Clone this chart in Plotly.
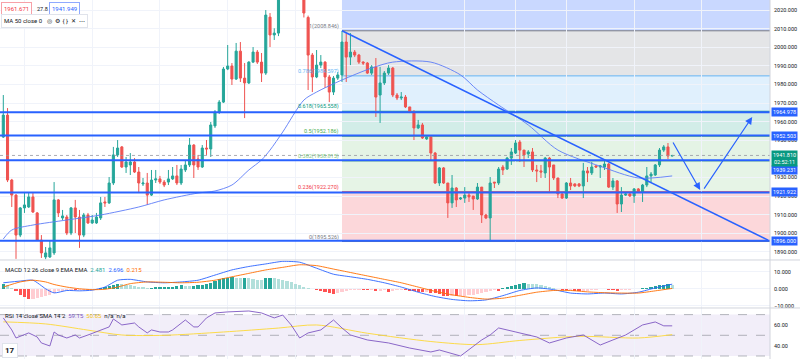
import plotly.graph_objects as go

# ---------------- data ----------------
opens = [1951.7,1963.5,1928.6,1920.5,1899.0,1913.6,1914.1,1919.5,1910.9,1896.3,1887.2,1887.2,1889.4,1917.9,1908.2,1908.7,1900.1,1913.6,1908.7,1899.0,
         1909.8,1905.5,1905.5,1908.2,1916.8,1916.3,1927.0,1942.1,1946.4,1935.6,1936.7,1938.3,1932.9,
         1926.5,1927.0,1920.5,1928.6,1929.2,1927.5,1927.5,1929.2,1930.8,1927.0,1934.0,1936.7,1947.4,1939.9,1935.6,1945.8,1945.3,1957.7,1965.2,1970.5,
         1988.3,1989.9,1982.9,1997.9,1983.4,1980.8,1992.0,1997.4,1992.0,1986.1,
         2016.2,2006.6,2007.6,2030.0,2037.0,2043.0,2038.0,2034.0,2030.0,2016.0,1995.8,1984.0,1990.4,1992.0,1984.0,1975.9,1983.4,1985.1,
         2002.8,1994.7,1997.4,1995.8,1992.0,1991.5,1986.1,1989.4,1974.3,1980.8,1986.1,1988.8,1974.3,1972.7,1973.2,1967.9,1965.2,1956.6,
         1958.2,1950.7,1951.7,1943.1,1927.0,1935.1,1927.0,1916.3,1924.3,1918.4,1918.9,1920.5,1920.0,1918.4,1924.8,1909.8,1908.2,1927.5,
         1927.0,1935.6,1934.5,1940.4,1943.1,1949.0,1944.7,1942.6,1943.7,1934.0,1933.5,1932.4,1940.4,1936.7,1929.7,1921.1,1918.9,1927.0,
         1926.5,1926.5,1925.4,1933.5,1932.4,1936.2,1935.6,1935.6,1937.2,1924.8,1928.1,1915.7,1920.5,1921.1,1920.0,1923.8,1922.2,1925.9,
         1930.8,1931.3,1936.7,1944.7,1946.4,1941.5]
highs = [1974.3,1967.3,1929.2,1921.0,1914.1,1921.6,1921.6,1921.6,1911.4,1899.0,1892.6,1896.3,1927.5,1918.4,1912.5,1909.8,1914.1,1917.9,1912.5,1910.9,
         1910.9,1909.8,1910.9,1919.5,1919.5,1930.2,1946.4,1950.1,1946.9,1941.0,1943.1,1940.4,1935.6,
         1929.7,1932.4,1934.0,1934.0,1930.8,1928.6,1934.0,1935.6,1936.7,1936.7,1939.4,1951.2,1947.9,1942.1,1947.4,1950.1,1959.8,1966.2,1971.6,1989.4,
         2001.2,1991.5,2002.3,2002.8,1991.5,1992.5,2000.1,1998.5,1996.9,2020.0,
         2018.4,2010.2,2032.0,2041.0,2047.0,2046.0,2040.0,2036.0,2031.0,2017.0,1996.9,1998.5,1995.8,1992.5,1985.1,1984.5,1986.7,2008.8,
         2007.6,2007.6,1998.5,1996.4,1992.5,1992.0,1990.4,1994.2,1989.4,1987.2,1990.4,1989.4,1975.4,1975.9,1974.3,1967.9,1966.2,1960.9,
         1959.3,1952.8,1952.2,1943.7,1935.6,1935.6,1927.0,1931.3,1924.8,1919.5,1924.8,1921.6,1920.0,1927.0,1924.8,1910.4,1930.2,1927.5,
         1935.6,1936.7,1941.0,1945.8,1950.1,1950.1,1944.7,1944.7,1945.8,1936.7,1936.7,1941.0,1941.0,1936.7,1929.7,1921.6,1927.5,1929.7,
         1926.8,1927.0,1937.8,1935.6,1938.3,1936.7,1936.7,1939.4,1937.8,1929.7,1928.6,1924.8,1921.6,1921.6,1924.3,1924.3,1926.5,1935.6,
         1932.9,1937.2,1945.8,1947.4,1948.5,1942.1]
lows = [1951.2,1927.5,1914.1,1886.2,1897.9,1910.9,1913.6,1910.9,1895.8,1886.7,1886.0,1886.7,1888.3,1908.7,1907.1,1899.0,1899.0,1900.1,1892.1,1897.9,
        1905.0,1905.0,1905.0,1907.1,1914.1,1915.7,1925.9,1941.0,1935.1,1932.4,1931.3,1932.4,1921.6,
        1925.4,1915.2,1920.0,1927.0,1926.5,1924.8,1925.9,1928.6,1925.9,1925.9,1932.9,1935.6,1929.7,1934.0,1935.1,1942.1,1941.0,1956.6,1964.1,1970.0,
        1987.7,1979.7,1982.4,1981.3,1961.9,1980.2,1991.5,1991.0,1981.3,1985.1,
        2000.1,2003.9,2006.0,2027.0,2034.0,2033.0,2029.0,2026.5,2016.0,1977.0,1975.9,1983.4,1988.8,1978.1,1970.5,1974.3,1982.4,1981.3,
        1981.3,1990.4,1994.7,1991.0,1990.4,1985.6,1985.1,1962.5,1959.3,1979.7,1985.1,1973.2,1971.6,1971.6,1967.3,1964.6,1950.1,1956.0,
        1950.7,1950.1,1939.4,1926.5,1925.4,1926.5,1908.2,1913.6,1914.1,1917.9,1916.3,1916.8,1912.5,1917.9,1905.5,1907.6,1895.3,1924.3,
        1925.9,1931.3,1934.0,1936.7,1942.6,1938.3,1935.6,1940.4,1932.9,1927.5,1929.7,1929.7,1922.2,1928.6,1918.9,1918.4,1918.4,1923.2,
        1924.8,1924.8,1918.9,1927.5,1931.3,1935.1,1929.7,1934.0,1924.3,1923.2,1910.9,1911.4,1920.0,1919.5,1916.3,1921.6,1916.8,1924.8,
        1927.5,1930.8,1935.6,1943.7,1939.9,1941.3]
closes = [1963.5,1928.6,1920.5,1899.0,1913.6,1915.2,1919.5,1911.4,1896.3,1889.4,1889.4,1892.1,1917.9,1910.9,1909.3,1900.1,1913.6,1908.7,1899.0,1909.8,
          1905.5,1907.1,1908.7,1916.3,1916.3,1927.0,1942.1,1945.8,1935.6,1938.3,1938.3,1932.9,1927.0,
          1927.0,1920.5,1928.6,1929.2,1927.5,1925.9,1929.2,1930.8,1927.0,1934.5,1936.7,1947.4,1936.7,1935.6,1945.8,1945.3,1958.2,1965.2,1970.5,1988.3,
          1989.9,1982.9,1997.9,1983.4,1980.8,1992.0,1997.4,1992.0,1986.1,2017.3,
          2006.6,2007.6,2030.0,2037.0,2043.0,2038.0,2034.0,2030.0,2018.4,1995.8,1984.0,1990.4,1992.0,1984.0,1975.9,1983.4,1985.1,2002.8,
          1994.7,1997.4,1995.8,1992.0,1991.5,1986.1,1989.4,1973.2,1980.8,1986.1,1988.8,1974.3,1972.7,1973.2,1967.9,1965.2,1956.6,1958.2,
          1951.2,1951.7,1943.1,1927.0,1935.1,1927.0,1916.3,1924.3,1917.9,1918.9,1920.5,1919.5,1918.4,1924.8,1909.8,1908.2,1927.0,1927.0,
          1934.5,1934.0,1940.4,1943.7,1948.5,1944.7,1942.1,1943.7,1934.0,1933.5,1932.9,1940.4,1935.6,1929.7,1921.1,1918.9,1927.0,1925.4,
          1925.4,1925.4,1933.5,1932.4,1935.6,1935.6,1936.2,1937.2,1924.8,1928.1,1915.7,1920.5,1921.1,1920.0,1923.8,1922.2,1925.9,1930.8,
          1931.8,1936.7,1944.7,1946.4,1941.5,1941.8]

ma_idx = [0, 2, 7, 15, 23, 32, 38, 46, 50, 54, 58, 61, 63, 66, 71, 74, 80, 87, 92, 101, 108, 112, 117, 124, 131, 141, 150, 158]
ma_val = [1896.9, 1901.7, 1904.4, 1907.1, 1909.8, 1914.1, 1917.9, 1921.6, 1922.7, 1925.9, 1934.0, 1939.4, 1944.7, 1954.4,
          1971.6, 1975.9, 1982.4, 1988.8, 1992.0, 1992.0, 1985.1, 1977.0, 1968.9, 1958.2, 1944.7, 1936.0, 1929.7, 1930.8]

macd_hist = [2.5, 2.0, 0.5,
             -1.5, -3.5, -5, -6, -6, -5.5, -5, -4.5, -3.5, -2.5,
             -1.5, -1.2, -1.0, -0.8, -1.0, -0.8, -0.6, -0.5, -0.4, -0.3,
             0.3, 0.8, 1.5, 2.2, 2.8, 2.6, 2.4, 2.2, 1.8, 1.2,
             0.8, 0.5, 0.6, 0.8, 0.9, 1.0, 1.1, 1.3, 1.8, 2.0,
             1.5, 1.4, 1.9, 2.4, 2.4, 2.7, 3.5, 4.5, 5.5, 6.0,
             6.5, 6.8, 6.5, 6.0, 6.3, 6.0, 5.5, 5.2, 5.0, 6.0,
             6.5, 6.0, 5.5, 5.0, 4.5, 4.0, 3.0, 2.0, 1.0, 0.5,
             0.0, -0.8, -1.5, -2.0, -2.5, -2.8, -2.6, -1.8, -1.2, -0.9,
             -0.8, -0.8, -0.9, -1.0, -1.0, -1.2, -1.2, -1.0, -1.8, -1.5,
             -1.0, -0.8, -1.0, -1.2, -1.5, -1.6, -2.0, -2.0, -2.2, -2.5,
             -3.0, -4.0, -4.5, -4.0, -4.5, -4.5, -4.0, -3.8, -3.5, -3.0,
             -2.5, -2.0, -1.5, -1.0, -1.2, 0.2, 0.8, 1.5, 2.2, 2.8,
             3.2, 3.0, 2.8, 2.5, 2.0, 1.5, 1.0, 0.5, 0.0, -0.5,
             -0.8, -0.8, -1.2, -1.5, -1.5, -1.2, -1.0, -0.6, -0.3, -0.2,
             -0.5, -1.0, -1.2, -1.0, -0.8, -0.5, -0.3, 0.0, 0.3, 0.6,
             1.0, 1.5, 2.0, 2.4, 2.6, 2.481]
macd_idx = [0, 4, 7, 10, 12, 15, 18, 21, 24, 27, 30, 34, 38, 42, 46, 50, 54, 58, 62, 66, 70, 74, 78, 82, 86, 90,
            94, 98, 102, 106, 110, 114, 118, 122, 126, 130, 134, 138, 142, 146, 150, 154, 158]
macd_line = [3.5, 4.5, 5.0, 0.0, -2.4, -1.0, -1.2, -0.8, 1.0, 5.0, 5.5, 4.0, 3.5, 4.0, 5.0, 8.0, 11.0, 13.0, 14.5, 16.0,
             15.5, 12.0, 8.5, 7.0, 5.5, 3.5, 1.0, -2.0, -4.5, -6.2, -7.0, -6.5, -4.0, -1.0, 0.5, -0.5, -2.5, -3.0,
             -2.5, -3.0, -2.0, 0.5, 2.696]
macd_signal = [1.0, 4.0, 5.0, 4.0, 2.5, 1.0, 0.0, -0.5, -0.3, 1.0, 3.0, 4.0, 3.8, 3.5, 3.8, 5.0, 7.0, 9.0, 11.0, 12.5,
               14.0, 13.5, 11.5, 9.5, 7.5, 5.5, 3.5, 1.0, -1.5, -3.5, -5.0, -6.0, -5.5, -3.8, -2.0, -1.0, -1.0, -1.8,
               -2.3, -2.5, -2.5, -1.2, 0.215]

rsi_idx = [0, 2, 3, 5, 6, 8, 9, 11, 12, 13, 15, 17, 18, 20, 22, 25, 26, 28, 31, 32, 34, 35, 37, 39, 40, 42, 43, 45, 46, 48, 50,
           53, 58, 61, 64, 66, 68, 70, 72, 75, 78, 80, 82, 86, 91, 96, 101, 103, 108, 113, 115, 117, 122, 126, 129, 133,
           137, 141, 144, 147, 151, 154, 156, 158]
rsi_val = [66.8, 55.2, 47.4, 50.3, 52.3, 48.4, 42.6, 39.7, 53.2, 50.3, 47.4, 50.3, 47.4, 50.3, 53.2, 58.1, 65.8, 60.0, 61.9,
           58.1, 52.3, 55.2, 53.2, 53.2, 55.2, 61.9, 64.8, 58.1, 58.1, 66.8, 71.6, 72.6, 73.5, 71.6, 66.8, 69.6, 60.0,
           47.4, 52.3, 55.2, 64.8, 57.1, 50.3, 45.5, 42.6, 37.7, 33.9, 35.8, 30.0, 45.5, 50.3, 57.1, 52.3, 48.4, 42.6,
           47.4, 50.3, 40.6, 45.5, 50.3, 60.0, 62.9, 59.15, 59.15]
rsi_sma_idx = [0, 10, 20, 28, 38, 52, 65, 74, 86, 101, 112, 122, 136, 150, 158]
rsi_sma_val = [63.0, 61.0, 55.0, 50.3, 50.0, 53.2, 57.0, 60.0, 52.0, 44.0, 41.0, 45.0, 49.0, 47.4, 50.65]

price_ticks = [1890, 1900, 1910, 1920, 1930, 1950, 1960, 1970, 1980, 1990, 2000, 2010, 2020]
fib_ratios = ["0", "0.236", "0.382", "0.5", "0.618", "0.786", "1"]
fib_prices = [1895.526, 1922.270, 1938.815, 1952.186, 1965.558, 1984.597, 2008.846]
fib_top = 2078.882
fib_start_idx = 80
hlines = [1964.978, 1952.503, 1939.231, 1921.922, 1896.000]
hline_label_pos = [1964.978, 1952.503, 1934.0, 1921.922, 1896.000]
last_price = 1941.810
trend_pts = ([80, 180.65], [2008.846, 1896.3])
arrow1 = (158.0, 1949.6, 164.6, 1923.2)
arrow2 = (165.3, 1923.2, 176.9, 1962.5)
grid_idx = [5, 21, 37, 53, 69, 109, 121, 133, 149, 165]

# ---------------- styling ----------------
UP = '#26a69a'
DN = '#ef5350'
BLUE = '#2962ff'
FONT = 'Roboto'
X0, X1 = -0.78, 181.1
Y0, Y1 = 1885.6, 2025.4
W, H, PW = 800, 359, 770
n = len(closes)
idx = list(range(n))

fig = go.Figure()

fig.add_trace(go.Candlestick(
    x=idx, open=opens, high=highs, low=lows, close=closes,
    increasing=dict(line=dict(color=UP, width=1), fillcolor=UP),
    decreasing=dict(line=dict(color=DN, width=1), fillcolor=DN),
    whiskerwidth=0, xaxis='x', yaxis='y', showlegend=False, hoverinfo='skip'))

fig.add_trace(go.Scatter(x=ma_idx, y=ma_val, mode='lines', line=dict(color='#5c7cf7', width=0.9, shape='spline', smoothing=0.8),
                         xaxis='x', yaxis='y', showlegend=False, hoverinfo='skip'))

# MACD
hcol = []
for i, h in enumerate(macd_hist):
    prev = macd_hist[i - 1] if i > 0 else h
    if h >= 0:
        hcol.append('#26a69a' if h >= prev else '#b2dfdb')
    else:
        hcol.append('#ffcdd2' if h >= prev else '#ff5252')
fig.add_trace(go.Bar(x=idx, y=macd_hist, marker=dict(color=hcol, line=dict(width=0)), width=0.75,
                     xaxis='x2', yaxis='y2', showlegend=False, hoverinfo='skip'))
fig.add_trace(go.Scatter(x=macd_idx, y=macd_line, mode='lines', line=dict(color=BLUE, width=0.9, shape='spline', smoothing=0.6),
                         xaxis='x2', yaxis='y2', showlegend=False, hoverinfo='skip'))
fig.add_trace(go.Scatter(x=macd_idx, y=macd_signal, mode='lines', line=dict(color='#ff6d00', width=0.9, shape='spline', smoothing=0.6),
                         xaxis='x2', yaxis='y2', showlegend=False, hoverinfo='skip'))

# RSI
fig.add_trace(go.Scatter(x=rsi_sma_idx, y=rsi_sma_val, mode='lines', line=dict(color='#fdd835', width=0.9, shape='spline', smoothing=0.8),
                         xaxis='x3', yaxis='y3', showlegend=False, hoverinfo='skip'))
fig.add_trace(go.Scatter(x=rsi_idx, y=rsi_val, mode='lines', line=dict(color='#7e57c2', width=0.9),
                         xaxis='x3', yaxis='y3', showlegend=False, hoverinfo='skip'))

shapes = []
band_cols = ['rgba(242,54,69,0.2)', 'rgba(129,199,132,0.2)', 'rgba(76,175,80,0.15)',
             'rgba(8,153,129,0.18)', 'rgba(100,181,246,0.2)', 'rgba(120,123,134,0.2)', 'rgba(41,98,255,0.25)']
line_cols = ['#787b86', '#f23645', '#81c784', '#4caf50', '#089981', '#64b5f6', '#787b86']
edges = fib_prices + [fib_top]
for i in range(7):
    shapes.append(dict(type='rect', xref='x', yref='y', x0=fib_start_idx, x1=X1, y0=edges[i], y1=edges[i + 1],
                       fillcolor=band_cols[i], line=dict(width=0), layer='below'))
for i in range(7):
    shapes.append(dict(type='line', xref='x', yref='y', x0=fib_start_idx, x1=X1, y0=fib_prices[i], y1=fib_prices[i],
                       line=dict(color=line_cols[i], width=1), layer='below'))
shapes.append(dict(type='line', xref='paper', yref='y', x0=0, x1=1, y0=last_price, y1=last_price,
                   line=dict(color='#9598a1', width=0.8, dash='dot')))
for h in hlines:
    shapes.append(dict(type='line', xref='paper', yref='y', x0=0, x1=1, y0=h, y1=h, line=dict(color=BLUE, width=2)))
shapes.append(dict(type='line', xref='x', yref='y', x0=trend_pts[0][0], x1=trend_pts[0][1],
                   y0=trend_pts[1][0], y1=trend_pts[1][1], line=dict(color=BLUE, width=1.5)))
shapes.append(dict(type='rect', xref='paper', yref='y3', x0=0, x1=1, y0=30, y1=70,
                   fillcolor='rgba(126,87,194,0.1)', line=dict(width=0), layer='below'))
for lv in (70, 50, 30):
    shapes.append(dict(type='line', xref='paper', yref='y3', x0=0, x1=1, y0=lv, y1=lv,
                       line=dict(color='#9598a1', width=0.7, dash='dash'), layer='below'))
for py in (0.2758, 0.1421):
    shapes.append(dict(type='line', xref='paper', yref='paper', x0=0, x1=W / PW, y0=py, y1=py,
                       line=dict(color='#d1d4dc', width=1)))
shapes.append(dict(type='line', xref='paper', yref='paper', x0=1, x1=1, y0=0, y1=1, line=dict(color='#d1d4dc', width=1)))

ann = []
def fmt(v):
    return f"{v:.3f}"
for r, p, c in zip(fib_ratios, fib_prices, line_cols):
    ann.append(dict(xref='x', yref='y', x=fib_start_idx, y=p, text=f"{r}({fmt(p)})", showarrow=False,
                    xanchor='right', yanchor='bottom', xshift=-1, yshift=-1, font=dict(size=5.5, color=c, family=FONT)))
lab_style = dict(xref='paper', yref='y', x=1, xanchor='left', showarrow=False, xshift=1,
                 font=dict(size=5.5, color='white', family=FONT), borderpad=1)
for h, ypos in zip(hlines, hline_label_pos):
    ann.append(dict(y=ypos, text=fmt(h), bgcolor=BLUE, **lab_style))
ann.append(dict(y=1940.2, text=f"{fmt(last_price)}<br>02:52:11", bgcolor='#089981', **lab_style))
for a in (arrow1, arrow2):
    ann.append(dict(xref='x', yref='y', axref='x', ayref='y', ax=a[0], ay=a[1], x=a[2], y=a[3], text='',
                    showarrow=True, arrowhead=2, arrowsize=1.2, arrowwidth=1.2, arrowcolor=BLUE))
def pp(px, py):
    return px / PW, 1 - py / H
x_, y_ = pp(1, 2)
ann.append(dict(xref='paper', yref='paper', x=x_, y=y_, xanchor='left', yanchor='top', showarrow=False,
                text='1961.671', font=dict(size=6, color='#f23645', family=FONT), bordercolor='#f7a1a8',
                borderwidth=1, borderpad=2, bgcolor='white'))
x_, y_ = pp(35, 4)
ann.append(dict(xref='paper', yref='paper', x=x_, y=y_, xanchor='left', yanchor='top', showarrow=False,
                text='27.8', font=dict(size=5.5, color='#131722', family=FONT)))
x_, y_ = pp(49, 2)
ann.append(dict(xref='paper', yref='paper', x=x_, y=y_, xanchor='left', yanchor='top', showarrow=False,
                text='1941.949', font=dict(size=6, color=BLUE, family=FONT), bordercolor='#8fa9ff',
                borderwidth=1, borderpad=2, bgcolor='white'))
x_, y_ = pp(1, 14)
ann.append(dict(xref='paper', yref='paper', x=x_, y=y_, xanchor='left', yanchor='top', showarrow=False,
                text='MA 50 close 0 &nbsp; ◎ &nbsp;⚙ &nbsp;{ } &nbsp;✕ &nbsp;⋯', font=dict(size=6, color='#131722', family=FONT),
                bordercolor='#e0e3eb', borderwidth=1, borderpad=2, bgcolor='white'))
x_, y_ = pp(3, 264)
ann.append(dict(xref='paper', yref='paper', x=x_, y=y_, xanchor='left', yanchor='top', showarrow=False,
                text='MACD 12 26 close 9 EMA EMA &nbsp;<span style="color:#26a69a">2.481</span> &nbsp;'
                     '<span style="color:#2962ff">2.696</span> &nbsp;<span style="color:#ff6d00">0.215</span>',
                font=dict(size=6, color='#131722', family=FONT)))
x_, y_ = pp(3, 310)
ann.append(dict(xref='paper', yref='paper', x=x_, y=y_, xanchor='left', yanchor='top', showarrow=False,
                text='RSI 14 close SMA 14 2 &nbsp;<span style="color:#7e57c2">59.15</span> &nbsp;'
                     '<span style="color:#f5c518">50.65</span> &nbsp;n/a &nbsp;n/a',
                font=dict(size=6, color='#131722', family=FONT)))
x_, y_ = pp(10, 350)
ann.append(dict(xref='paper', yref='paper', x=x_, y=y_, xanchor='center', yanchor='middle', showarrow=False,
                text='<b>17</b>', font=dict(size=8, color='#131722', family=FONT), bgcolor='white',
                bordercolor='#e0e3eb', borderwidth=1, borderpad=2))

axis_common = dict(range=[X0, X1], showticklabels=False, showgrid=True, gridcolor='#f0f3fa', gridwidth=1,
                   tickvals=grid_idx, zeroline=False, showline=False, ticks='', fixedrange=True, automargin=False)
yfont = dict(size=5.5, color='#131722', family=FONT)
ycommon = dict(side='right', tickfont=yfont, zeroline=False, ticks='', fixedrange=True, automargin=False,
               ticklabelstandoff=3)
fig.update_layout(
    width=W, height=H, margin=dict(l=0, r=W - PW, t=0, b=0, autoexpand=False),
    paper_bgcolor='white', plot_bgcolor='white', showlegend=False, bargap=0,
    xaxis=dict(anchor='y', rangeslider=dict(visible=False), **axis_common),
    xaxis2=dict(anchor='y2', matches='x', **axis_common),
    xaxis3=dict(anchor='y3', matches='x', **axis_common),
    yaxis=dict(domain=[0.2758, 1], range=[Y0, Y1], tickvals=price_ticks, tickformat='.3f',
               showgrid=True, gridcolor='#f0f3fa', **ycommon),
    yaxis2=dict(domain=[0.1421, 0.2758], range=[-11.2, 16.8], tickvals=[-10, 0, 10], tickformat='.3f',
                showgrid=True, gridcolor='#f0f3fa', **ycommon),
    yaxis3=dict(domain=[0, 0.1421], range=[27.1, 76.4], tickvals=[40, 60], tickformat='.2f',
                showgrid=False, **ycommon),
    shapes=shapes, annotations=ann,
)

fig.write_html("out.html", config={'displayModeBar': False, 'staticPlot': True},
               post_script="document.body.style.margin='0';document.body.style.overflow='hidden';")
